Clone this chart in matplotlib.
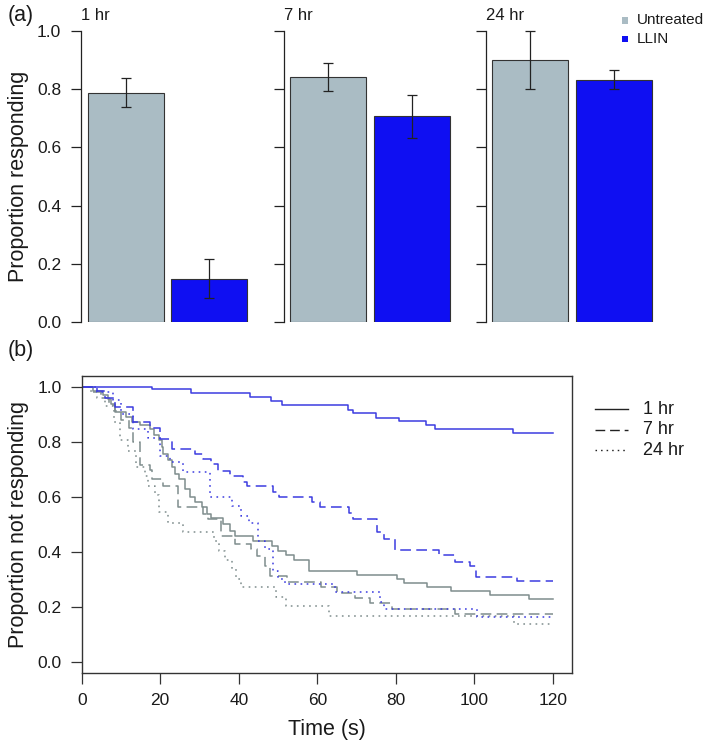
import matplotlib
matplotlib.use('Agg')
import matplotlib.pyplot as plt
from matplotlib.lines import Line2D
from matplotlib.patches import Rectangle

plt.rcParams['font.family'] = ['Liberation Sans', 'DejaVu Sans']

# ---------------- data: panel (a) ----------------
timepoints = ['1 hr', '7 hr', '24 hr']
treatments = ['Untreated', 'LLIN']
untreated_mean = [0.787, 0.840, 0.901]
untreated_lo = [0.737, 0.792, 0.800]
untreated_hi = [0.839, 0.889, 1.000]
llin_mean = [0.149, 0.706, 0.832]
llin_lo = [0.082, 0.631, 0.800]
llin_hi = [0.216, 0.781, 0.864]

# ---------------- data: panel (b) (Kaplan-Meier, step 'post') ----------------
llin_1hr_t = [0, 17.9, 27.9, 42.8, 48.1, 50.9, 67.9, 69.0, 74.9, 80.8, 87.8, 89.9, 109.9, 120]
llin_1hr_p = [1.0, 0.990, 0.976, 0.961, 0.947, 0.932, 0.917, 0.904, 0.888, 0.875, 0.861, 0.847, 0.832, 0.832]

llin_7hr_t = [0, 4, 6, 8.4, 13.1, 17.5, 20, 23, 28.8, 31, 33, 34.8, 37.8, 41.2, 42, 48.8, 50.3,
              58.6, 60.7, 68, 69, 75.2, 76.9, 79.9, 91, 95, 99, 100.5, 110.9, 120]
llin_7hr_p = [1.0, 0.985, 0.96, 0.927, 0.87, 0.85, 0.81, 0.772, 0.756, 0.738, 0.72, 0.693, 0.677,
              0.653, 0.638, 0.619, 0.599, 0.583, 0.563, 0.54, 0.52, 0.473, 0.447, 0.407, 0.39,
              0.365, 0.35, 0.31, 0.293, 0.293]

llin_24hr_t = [0, 4, 8, 10, 13, 16.8, 19.9, 22.4, 25.8, 32.7, 38.2, 40.7, 42.5, 45, 46.7, 48.8,
               50, 51.8, 64.5, 76, 77, 100.7, 120]
llin_24hr_p = [1.0, 0.98, 0.95, 0.90, 0.847, 0.815, 0.75, 0.726, 0.69, 0.599, 0.568, 0.53, 0.504,
               0.441, 0.41, 0.33, 0.30, 0.284, 0.253, 0.217, 0.193, 0.162, 0.162]

untr_1hr_t = [0, 3, 5.5, 6.8, 7.5, 8.6, 11.2, 12.8, 14.8, 17.4, 18.3, 19.6, 20.4, 20.8, 22, 23,
              23.8, 24.7, 26.3, 27.6, 28.8, 30.7, 32, 33, 36, 37.8, 39, 43.7, 48.4, 50, 52, 54,
              58, 70, 80.2, 82, 88, 94, 104, 114, 120]
untr_1hr_p = [1.0, 0.985, 0.97, 0.955, 0.938, 0.908, 0.89, 0.872, 0.86, 0.847, 0.823, 0.805,
              0.78, 0.756, 0.732, 0.708, 0.684, 0.665, 0.629, 0.599, 0.58, 0.562, 0.538, 0.522,
              0.502, 0.477, 0.459, 0.441, 0.423, 0.405, 0.389, 0.372, 0.33, 0.316, 0.302, 0.286,
              0.271, 0.259, 0.244, 0.229, 0.229]

untr_7hr_t = [0, 3, 5, 7, 8.5, 10, 12, 13, 14.9, 17.4, 17.9, 20.7, 24.5, 30.9, 32.2, 35.6, 39,
              43, 44.6, 46.7, 48, 52.2, 61, 65, 69.6, 73.5, 79, 95, 120]
untr_7hr_p = [1.0, 0.98, 0.96, 0.935, 0.91, 0.88, 0.85, 0.80, 0.714, 0.696, 0.665, 0.638, 0.562,
              0.538, 0.52, 0.459, 0.429, 0.41, 0.386, 0.35, 0.314, 0.29, 0.271, 0.25, 0.233,
              0.215, 0.193, 0.175, 0.175]

untr_24hr_t = [0, 2, 4, 6, 8.1, 9.7, 11.8, 13.9, 16, 17, 18.6, 19.7, 22, 25.8, 33.7, 35, 36.5,
               38.2, 39.4, 40.6, 49.6, 52, 63, 110, 120]
untr_24hr_p = [1.0, 0.985, 0.96, 0.93, 0.87, 0.805, 0.768, 0.708, 0.677, 0.641, 0.605, 0.544,
               0.504, 0.472, 0.44, 0.405, 0.37, 0.338, 0.302, 0.271, 0.235, 0.205, 0.168, 0.138,
               0.138]

legend_b = ['1 hr', '7 hr', '24 hr']

# ---------------- styles ----------------
GRAY_BAR = '#aabcc4'
BLUE_BAR = '#0f0ff2'
GRAY_LINE = '#7f8d8d'
BLUE_LINE = '#3c3ce0'
W, H = 709, 747

fig = plt.figure(figsize=(W / 100, H / 100), dpi=100)


def ax_px(x0, x1, y0, y1):
    return fig.add_axes([x0 / W, 1 - y1 / H, (x1 - x0) / W, (y1 - y0) / H])


# ---------------- panel (a) ----------------
panel_x = [(81.4, 253.8), (284.0, 456.0), (485.5, 658.0)]
for i, (x0, x1) in enumerate(panel_x):
    ax = ax_px(x0, x1, 30.7, 322.3)
    pos = [0.6, 1.7]
    means = [untreated_mean[i], llin_mean[i]]
    lows = [untreated_lo[i], llin_lo[i]]
    highs = [untreated_hi[i], llin_hi[i]]
    ax.bar(pos, means, width=1.0, color=[GRAY_BAR, BLUE_BAR], edgecolor='#333333',
           linewidth=0.8, zorder=2)
    ax.errorbar(pos, means, yerr=[[m - l for m, l in zip(means, lows)],
                                  [h - m for m, h in zip(means, highs)]],
                fmt='none', ecolor='#222222', elinewidth=0.9, capsize=3.8, capthick=0.9,
                zorder=3, clip_on=False)
    ax.set_xlim(0.016, 2.284)
    ax.set_ylim(0, 1)
    for s in ['top', 'right', 'bottom']:
        ax.spines[s].set_visible(False)
    ax.spines['left'].set_linewidth(0.9)
    ax.spines['left'].set_color('#222222')
    ax.set_xticks([])
    ax.set_yticks([0, 0.2, 0.4, 0.6, 0.8, 1.0])
    ax.tick_params(axis='y', direction='out', length=7, width=0.9, colors='#222222',
                   labelsize=12.5, pad=7.5, labelcolor='#1a1a1a')
    if i == 0:
        ax.set_yticklabels(['0.0', '0.2', '0.4', '0.6', '0.8', '1.0'])
        ax.set_ylabel('Proportion responding', fontsize=15.5, labelpad=6, color='#1a1a1a')
    else:
        ax.set_yticklabels([])
    fig.text(x0 / W, 1 - 15 / H, timepoints[i], fontsize=12, ha='left', va='center',
             color='#1a1a1a')

fig.text(8 / W, 1 - 15 / H, '(a)', fontsize=15.5, ha='left', va='center', color='#1a1a1a')

# legend (a)
for j, (lab, col) in enumerate(zip(treatments, [GRAY_BAR, BLUE_BAR])):
    yc = 20.5 + j * 18.5
    fig.add_artist(Rectangle((622 / W, 1 - (yc + 3.2) / H), 6.4 / W, 6.4 / H,
                             transform=fig.transFigure, facecolor=col, edgecolor='none'))
    fig.text(637 / W, 1 - yc / H, lab, fontsize=11, ha='left', va='center', color='#1a1a1a')

# ---------------- panel (b) ----------------
axb = ax_px(81.7, 571.7, 375.7, 673.0)
lw = 1.1
dash = (7.0, 3.5)
dot = (1.1, 2.9)
axb.step(untr_1hr_t, untr_1hr_p, where='post', color=GRAY_LINE, lw=lw)
axb.step(untr_7hr_t, untr_7hr_p, where='post', color=GRAY_LINE, lw=lw, dashes=dash)
axb.step(untr_24hr_t, untr_24hr_p, where='post', color=GRAY_LINE, lw=lw, dashes=dot)
axb.step(llin_1hr_t, llin_1hr_p, where='post', color=BLUE_LINE, lw=lw)
axb.step(llin_7hr_t, llin_7hr_p, where='post', color=BLUE_LINE, lw=lw, dashes=dash)
axb.step(llin_24hr_t, llin_24hr_p, where='post', color=BLUE_LINE, lw=lw, dashes=dot)

axb.set_xlim(0, 124.8)
axb.set_ylim(-0.04, 1.04)
axb.set_xticks([0, 20, 40, 60, 80, 100, 120])
axb.set_yticks([0, 0.2, 0.4, 0.6, 0.8, 1.0])
axb.set_yticklabels(['0.0', '0.2', '0.4', '0.6', '0.8', '1.0'])
for s in axb.spines.values():
    s.set_linewidth(1.0)
    s.set_color('#333333')
axb.tick_params(direction='out', length=8, width=0.9, colors='#333333', labelsize=12.5,
                pad=6.5, labelcolor='#1a1a1a')
axb.set_xlabel('Time (s)', fontsize=15.5, labelpad=8, color='#1a1a1a')
axb.set_ylabel('Proportion not responding', fontsize=15.5, labelpad=6, color='#1a1a1a')
fig.text(8 / W, 1 - 350 / H, '(b)', fontsize=15.5, ha='left', va='center', color='#1a1a1a')

# legend (b)
styles = [None, dash, dot]
for j, (lab, st) in enumerate(zip(legend_b, styles)):
    yc = 409 + j * 20.5
    ln = Line2D([595 / W, 628 / W], [1 - yc / H, 1 - yc / H], transform=fig.transFigure,
                color='#222222', lw=1.0)
    if st is not None:
        ln.set_dashes(st)
    fig.add_artist(ln)
    fig.text(643 / W, 1 - yc / H, lab, fontsize=13, ha='left', va='center', color='#1a1a1a')

fig.savefig('out.png', dpi=100)
